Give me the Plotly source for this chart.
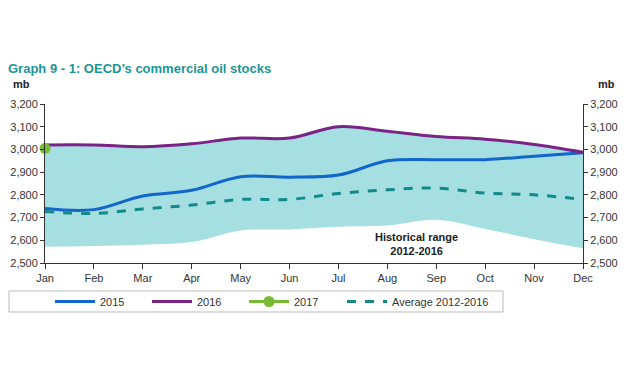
import plotly.graph_objects as go

months = ["Jan", "Feb", "Mar", "Apr", "May", "Jun", "Jul", "Aug", "Sep", "Oct", "Nov", "Dec"]
stocks_2015 = [2740, 2735, 2795, 2820, 2880, 2878, 2887, 2950, 2955, 2955, 2970, 2985]
stocks_2016 = [3020, 3020, 3012, 3025, 3050, 3050, 3100, 3080, 3057, 3045, 3022, 2988]
stocks_2017 = [3005]
avg_2012_2016 = [2727, 2718, 2738, 2755, 2780, 2780, 2806, 2822, 2830, 2808, 2800, 2780]
range_low = [2572, 2575, 2580, 2592, 2643, 2648, 2660, 2665, 2690, 2650, 2605, 2565]
range_high = [3020, 3020, 3012, 3025, 3050, 3050, 3100, 3080, 3057, 3045, 3022, 2988]
y_ticks = [2500, 2600, 2700, 2800, 2900, 3000, 3100, 3200]
y_tick_text = ["2,500", "2,600", "2,700", "2,800", "2,900", "3,000", "3,100", "3,200"]

OFF = 8  # page body margin
L, R, T, B = 45 - OFF, 583 - OFF, 104 - OFF, 263 - OFF
PW, PH = R - L, B - T


def px(x):
    return (x - OFF - L) / PW


def py(y):
    return (B - (y - OFF)) / PH


fig = go.Figure()
fig.add_trace(go.Scatter(x=months, y=range_low, mode="lines", line=dict(width=0, shape="spline"),
                         showlegend=False, hoverinfo="skip"))
fig.add_trace(go.Scatter(x=months, y=range_high, mode="lines", line=dict(width=0, shape="spline"),
                         fill="tonexty", fillcolor="#a6dfe1", showlegend=False, hoverinfo="skip"))
fig.add_trace(go.Scatter(x=months, y=stocks_2015, name="2015", mode="lines",
                         line=dict(color="#1166cc", width=3, shape="spline")))
fig.add_trace(go.Scatter(x=months, y=stocks_2016, name="2016", mode="lines",
                         line=dict(color="#7a2385", width=3, shape="spline")))
fig.add_trace(go.Scatter(x=months[:1], y=stocks_2017, name="2017", mode="lines+markers",
                         line=dict(color="#77bb33", width=3), marker=dict(size=11, color="#77bb33"),
                         cliponaxis=False))
fig.add_trace(go.Scatter(x=months, y=avg_2012_2016, name="Average 2012-2016", mode="lines",
                         line=dict(color="#138a8a", width=3, dash="dash", shape="spline"),
                         legend="legend2"))
# invisible trace for right axis
fig.add_trace(go.Scatter(x=months, y=avg_2012_2016, yaxis="y2", mode="lines",
                         line=dict(width=0), showlegend=False, hoverinfo="skip"))

axis_font = dict(family="Liberation Sans, Arial, sans-serif", size=11, color="#333333")
legend_font = dict(family="Liberation Sans, Arial, sans-serif", size=11, color="#333")
fig.update_layout(
    width=630, height=376,
    margin=dict(l=L, r=630 - R, t=T, b=376 - B, autoexpand=False),
    paper_bgcolor="white", plot_bgcolor="white",
    font=axis_font,
    title=dict(text="<b>Graph 9 - 1: OECD’s commercial oil stocks</b>", x=0, xref="container", xanchor="left",
               y=1 - (68 - OFF) / 376, yanchor="middle", yref="container",
               font=dict(family="Liberation Sans, Arial, sans-serif", size=13, color="#1a9696")),
    xaxis=dict(type="category", range=[0, 11], showgrid=False, showline=True, linecolor="#333",
               ticks="outside", ticklen=5, tickcolor="#333", tickfont=axis_font, zeroline=False,
               automargin=False),
    yaxis=dict(range=[2500, 3200], tickvals=y_ticks, ticktext=y_tick_text, showgrid=False,
               showline=True, linecolor="#333", ticks="outside", ticklen=4, tickcolor="#333",
               tickfont=axis_font, zeroline=False, automargin=False),
    yaxis2=dict(range=[2500, 3200], tickvals=y_ticks, ticktext=y_tick_text, overlaying="y", side="right",
                showgrid=False, showline=True, linecolor="#333", ticks="outside", ticklen=4,
                tickcolor="#333", tickfont=axis_font, zeroline=False, automargin=False),
    legend=dict(orientation="h", x=px(50), xanchor="left", y=py(287), yanchor="top",
                borderwidth=0, bgcolor="rgba(0,0,0,0)", entrywidth=42,
                font=legend_font, itemwidth=40, traceorder="normal"),
    legend2=dict(orientation="h", x=px(342), xanchor="left", y=py(287), yanchor="top",
                 borderwidth=0, bgcolor="rgba(0,0,0,0)", font=legend_font, itemwidth=40),
    showlegend=True,
    annotations=[
        dict(text="<b>mb</b>", xref="paper", yref="paper", x=px(21), y=py(84),
             xanchor="center", yanchor="middle", showarrow=False, font=dict(size=11, color="#222")),
        dict(text="<b>mb</b>", xref="paper", yref="paper", x=px(606), y=py(84),
             xanchor="center", yanchor="middle", showarrow=False, font=dict(size=11, color="#222")),
        dict(text="<b>Historical range<br>2012-2016</b>", xref="paper", yref="paper",
             x=px(416), y=py(244), xanchor="center", yanchor="middle", showarrow=False,
             font=dict(size=11, color="#222")),
    ],
    shapes=[
        dict(type="rect", xref="paper", yref="paper", x0=px(9), x1=px(503), y0=py(291), y1=py(312),
             line=dict(color="#bbbbbb", width=1), fillcolor="white", layer="below"),
        dict(type="line", xref="paper", yref="paper", x0=px(627), x1=px(627),
             y0=py(370), y1=py(57), line=dict(color="#111", width=3), layer="above"),
    ],
)

fig.write_html("out.html")
